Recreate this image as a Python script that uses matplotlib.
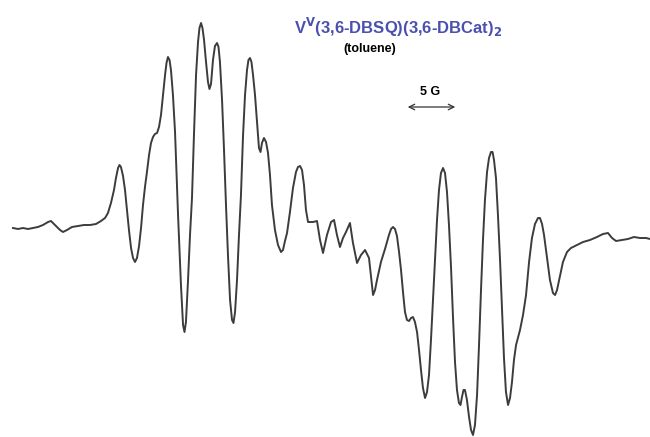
import numpy as np
import matplotlib.pyplot as plt

# EPR spectrum (field in G, signal in arb. units)
field = [
    # left baseline
    1.25, 1.73, 2.21, 2.69, 3.17, 3.65, 4.13, 4.62, 4.90, 5.29, 5.77, 6.06, 6.44, 6.92,
    7.50, 8.08, 8.65, 9.23,
    # low-field lines
    9.71, 10.10, 10.38, 10.67, 10.96, 11.15, 11.35, 11.49, 11.63, 11.83, 12.02, 12.21,
    12.40, 12.60, 12.79, 12.98, 13.17, 13.37, 13.56, 13.75, 13.94, 14.13, 14.33, 14.52,
    14.71, 14.90, 15.10, 15.29, 15.48, 15.67, 15.87, 16.01, 16.15, 16.30, 16.44, 16.63,
    16.83, 17.12, 17.40, 17.60, 17.74, 17.88, 18.08, 18.27, 18.46, 18.65, 18.85, 19.04,
    19.18, 19.33, 19.47, 19.62, 19.81, 20.00, 20.14, 20.29, 20.48, 20.67, 20.87, 21.01,
    21.15, 21.35, 21.54, 21.73, 21.92, 22.12, 22.31, 22.45, 22.60, 22.79, 22.98, 23.17,
    23.37, 23.56, 23.75, 23.89, 24.04, 24.18, 24.33, 24.52, 24.71, 24.90, 25.05, 25.19,
    25.38, 25.58, 25.77, 25.96, 26.15, 26.44, 26.73, 27.02, 27.21, 27.40, 27.60, 27.88,
    28.17, 28.46, 28.65, 28.85, 29.04, 29.23, 29.42, 29.62,
    # middle
    30.10, 30.48, 30.77, 31.06, 31.44, 31.83, 32.12, 32.40, 32.69, 32.98, 33.27, 33.65,
    33.94, 34.33, 34.71, 35.10, 35.48, 35.87, 36.06, 36.25, 36.63, 37.02,
    # high-field lines
    37.40, 37.60, 37.79, 37.98, 38.17, 38.37, 38.56, 38.75, 38.94, 39.13, 39.33, 39.52,
    39.71, 39.90, 40.10, 40.29, 40.48, 40.67, 40.87, 41.06, 41.25, 41.44, 41.63, 41.83,
    42.02, 42.21, 42.40, 42.60, 42.79, 42.98, 43.17, 43.37, 43.56, 43.75, 43.94, 44.13,
    44.28, 44.42, 44.57, 44.71, 44.90, 45.10, 45.29, 45.48, 45.67, 45.87, 46.06, 46.25,
    46.44, 46.63, 46.83, 47.02, 47.21, 47.36, 47.50, 47.69, 47.88, 48.08, 48.27, 48.46,
    48.65, 48.85, 49.04, 49.23, 49.42, 49.62, 50.00, 50.29, 50.58, 50.87, 51.15, 51.44,
    51.73, 51.92, 52.12, 52.31, 52.60, 52.88, 53.17, 53.37, 53.56, 53.85, 54.13, 54.52,
    # right baseline
    54.90, 55.48, 56.06, 56.73, 57.40, 57.98, 58.46, 58.85, 59.23, 59.81, 60.38, 60.96,
    61.54, 62.12, 62.50,
]
signal = [
    # left baseline
    0, -1, 0, -1, 0, 1, 3, 6, 7, 3, -2, -4, -2, 1,
    2, 3, 3, 4,
    # low-field lines
    7, 10, 15, 25, 38, 50, 60, 63, 61, 52, 38, 18,
    -2, -20, -30, -34, -30, -18, 0, 23, 41, 56, 73, 85,
    91, 94, 95, 101, 113, 133, 153, 165, 171, 168, 158, 133,
    96, 13, -57, -97, -104, -94, -52, -7, 30, 93, 153, 186,
    200, 205, 200, 188, 166, 146, 139, 144, 168, 182, 185, 181,
    166, 128, 78, 23, -27, -72, -92, -95, -84, -52, -7, 33,
    93, 133, 158, 168, 170, 166, 153, 133, 106, 80, 76, 85,
    90, 86, 75, 53, 23, -2, -17, -24, -22, -13, -5, 16,
    40, 56, 61, 62, 58, 43, 18, 6,
    # middle
    6, 7, -12, -25, -7, 6, 8, -7, -19, -10, -4, 5,
    -15, -35, -27, -22, -30, -67, -62, -52, -34, -21,
    # high-field lines
    -7, -1, 1, -1, -8, -24, -42, -64, -84, -92, -93, -90,
    -89, -94, -104, -122, -142, -160, -170, -164, -147, -112, -72, -30,
    8, 38, 55, 60, 55, 36, 3, -40, -90, -134, -162, -175,
    -177, -169, -162, -162, -172, -189, -202, -207, -197, -167, -117, -62,
    -12, 28, 56, 70, 76, 76, 68, 50, 13, -32, -82, -130,
    -164, -177, -170, -154, -132, -117, -102, -87, -67, -34, -10, 4,
    10, 10, 4, -7, -30, -52, -65, -67, -62, -48, -34, -24,
    # right baseline
    -20, -17, -14, -12, -9, -6, -5, -10, -13, -12, -11, -9,
    -10, -10, -11,
]

scale_bar = (38.94, 44.04)  # the "5 G" marker

field = np.array(field)
signal = np.array(signal)

fig = plt.figure(figsize=(6.5, 4.37), dpi=100)
ax = fig.add_axes([0, 0, 1, 1])
ax.plot(field, signal, color='#3c3c3c', linewidth=1.4, solid_joinstyle='round')

ax.text(38.3, 201, r'V$^{\mathbf{V}}$(3,6-DBSQ)(3,6-DBCat)$_{\mathbf{2}}$', color='#4a50ae',
        fontsize=12, fontweight='bold', ha='center', va='center', family='Liberation Sans')
ax.text(35.6, 179, '(toluene)', color='black', fontsize=9, fontweight='bold',
        ha='center', va='center', family='Liberation Sans')
ax.text(41.35, 136, '5 G', color='black', fontsize=9, fontweight='bold',
        ha='center', va='center', family='Liberation Sans')
ax.annotate('', xy=(scale_bar[0], 121), xytext=(scale_bar[1], 121),
            arrowprops=dict(arrowstyle='<->', color='#333333', lw=0.9))

ax.set_xlim(0, 62.5)
ax.set_ylim(-209, 228)
ax.axis('off')

plt.savefig('out.png', dpi=100)
